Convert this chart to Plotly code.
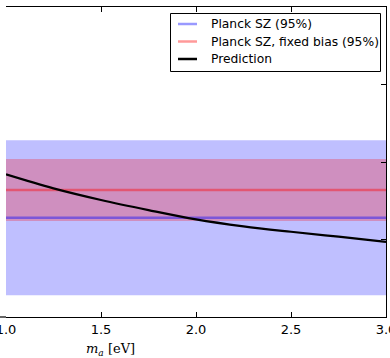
import plotly.graph_objects as go

# ---- data ----
ma_extent = [1.0, 3.0]                      # m_a range of the constraint bands [eV]
sz_center, sz_err95 = 0.764, 0.050          # Planck SZ (95%)
fb_center, fb_err95 = 0.782, 0.020          # Planck SZ, fixed bias (95%)
pred_ma = [1.0, 1.25, 1.5, 1.75, 2.0, 2.25, 2.5, 2.75, 3.0]
pred_val = [0.792, 0.783, 0.7755, 0.769, 0.763, 0.7585, 0.755, 0.7518, 0.7485]
x_ticks = [1.0, 1.5, 2.0, 2.5, 3.0]
x_tick_text = ["1.0", "1.5", "2.0", "2.5", "3.0"]
y_ticks = [0.70, 0.75, 0.80, 0.85, 0.90]
legend_names = ["Planck SZ (95%)", "Planck SZ, fixed bias (95%)", "Prediction"]

BLUE_FILL = "rgba(0,0,255,0.25)"
RED_FILL = "rgba(255,0,0,0.25)"
BLUE_LINE = "rgba(0,0,255,0.4)"
RED_LINE = "rgba(255,0,0,0.4)"
LEGEND_COLORS = [BLUE_LINE, RED_LINE, "black"]

# pixel geometry of the plot area (for the hand-drawn legend box)
W, H = 390, 358
ML, MR, MT, MB = 6, 4, 7, 41
PW, PH = W - ML - MR, H - MT - MB


def px(x):
    return (x - ML) / PW


def py(y):
    return (H - MB - y) / PH


def band(lo, hi, color):
    x0, x1 = ma_extent
    return go.Scatter(x=[x0, x1, x1, x0, x0], y=[lo, lo, hi, hi, lo], mode="lines",
                      fill="toself", fillcolor=color, line=dict(width=0),
                      hoverinfo="skip", showlegend=False)


fig = go.Figure()
fig.add_trace(band(sz_center - sz_err95, sz_center + sz_err95, BLUE_FILL))
fig.add_trace(band(fb_center - fb_err95, fb_center + fb_err95, RED_FILL))
fig.add_trace(go.Scatter(x=ma_extent, y=[sz_center, sz_center], mode="lines",
                         line=dict(color=BLUE_LINE, width=2.5), name=legend_names[0]))
fig.add_trace(go.Scatter(x=ma_extent, y=[fb_center, fb_center], mode="lines",
                         line=dict(color=RED_LINE, width=2.5), name=legend_names[1]))
fig.add_trace(go.Scatter(x=pred_ma, y=pred_val, mode="lines",
                         line=dict(color="black", width=2.2, shape="spline"), name=legend_names[2]))

shapes = [
    dict(type="line", xref="paper", yref="paper", x0=-0.02, x1=0, y0=0, y1=0,
         line=dict(color="black", width=1.2)),
    dict(type="rect", xref="paper", yref="paper", x0=px(170.5), x1=px(380.5),
         y0=py(71.5), y1=py(13.5), fillcolor="white", line=dict(color="black", width=1)),
]
annotations = [
    dict(text="<i>m</i><sub><i>a</i></sub> [eV]", xref="paper", yref="paper",
         x=(110 - ML) / PW, y=-0.072, xanchor="center", yanchor="top", showarrow=False,
         font=dict(family="DejaVu Serif", size=13, color="black")),
]
for i, (name, col) in enumerate(zip(legend_names, LEGEND_COLORS)):
    yc = 24 + i * 17.5
    shapes.append(dict(type="line", xref="paper", yref="paper", x0=px(178), x1=px(197),
                       y0=py(yc), y1=py(yc), line=dict(color=col, width=2.5)))
    annotations.append(dict(text=name, xref="paper", yref="paper", x=px(209), y=py(yc),
                            xanchor="left", yanchor="middle", showarrow=False,
                            font=dict(family="DejaVu Sans", size=12.3, color="black")))

fig.update_layout(
    width=W, height=H,
    margin=dict(l=ML, r=MR, t=MT, b=MB, autoexpand=False),
    paper_bgcolor="white", plot_bgcolor="white",
    font=dict(family="DejaVu Sans", size=13, color="black"),
    showlegend=False,
    xaxis=dict(range=ma_extent, tickvals=x_ticks, ticktext=x_tick_text,
               ticks="inside", ticklen=5, tickcolor="black", showline=True,
               linecolor="black", linewidth=1.2, mirror="ticks", showgrid=False,
               zeroline=False, tickfont=dict(size=13), ticklabeloverflow="allow",
               automargin=False),
    yaxis=dict(range=[0.70, 0.90], tickvals=y_ticks, side="right", showticklabels=False,
               ticks="inside", ticklen=5, tickcolor="black", showline=True,
               linecolor="black", linewidth=1.2, showgrid=False, zeroline=False,
               automargin=False),
    annotations=annotations,
    shapes=shapes,
)

fig.write_html("out.html")
